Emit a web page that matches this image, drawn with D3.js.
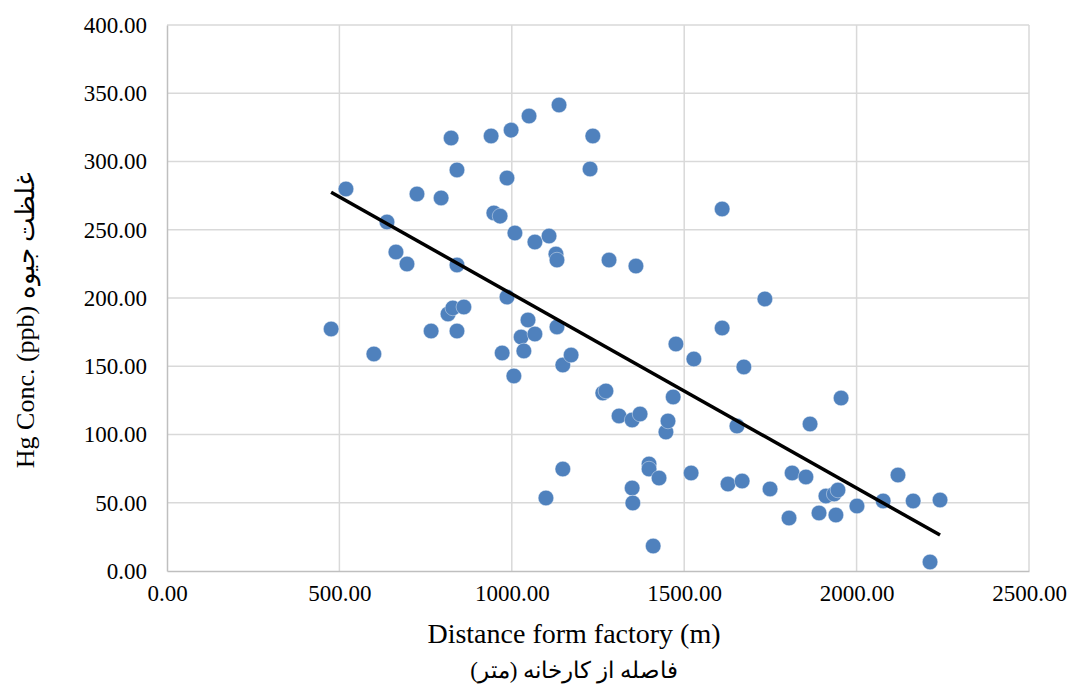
<!DOCTYPE html>
<html>
<head>
<meta charset="utf-8">
<script src="https://cdn.jsdelivr.net/npm/d3@7"></script>
<style>
  html, body { margin: 0; padding: 0; background: #fff; }
  svg { display: block; font-family: 'Liberation Serif', 'Times New Roman', serif; }
</style>
</head>
<body>
<svg width="1069" height="687"></svg>
<script>
// distance from the factory (m)
const distance = [
  476, 519, 600, 638, 664, 696, 725, 766, 795, 815,
  824, 829, 841, 841, 841, 861, 940, 948, 966, 972,
  986, 986, 998, 1009, 1006, 1027, 1035, 1047, 1050, 1067,
  1067, 1099, 1108, 1128, 1131, 1131, 1137, 1148, 1148, 1172,
  1227, 1235, 1264, 1273, 1282, 1311, 1349, 1349, 1351, 1360,
  1372, 1398, 1398, 1410, 1427, 1447, 1453, 1468, 1476, 1520,
  1528, 1610, 1610, 1627, 1653, 1668, 1673, 1734, 1749, 1804,
  1813, 1853, 1865, 1891, 1911, 1935, 1940, 1946, 1955, 2001,
  2077, 2120, 2164, 2213, 2242
];

// Hg concentration (ppb)
const hgConc = [
  177.3, 279.9, 159.0, 255.7, 233.7, 224.9, 276.2, 175.8, 273.3, 188.3,
  317.2, 192.7, 293.8, 224.2, 175.8, 193.4, 318.7, 262.3, 260.0, 159.7,
  287.9, 200.7, 323.0, 247.6, 142.9, 171.4, 161.2, 183.9, 333.3, 173.6,
  241.0, 53.5, 245.4, 232.2, 227.8, 178.8, 341.4, 150.9, 74.7, 158.2,
  294.5, 318.7, 130.4, 131.9, 227.8, 113.6, 60.8, 110.6, 49.8, 223.4,
  115.0, 78.4, 74.7, 18.3, 68.1, 101.8, 109.9, 127.5, 166.3, 71.8,
  155.3, 265.2, 178.0, 63.7, 106.2, 65.9, 149.5, 199.3, 60.1, 38.8,
  71.8, 68.9, 107.7, 42.5, 54.9, 56.4, 41.0, 59.3, 126.7, 47.6,
  51.3, 70.3, 51.3, 6.6, 52.0
];

const xTicks = [0, 500, 1000, 1500, 2000, 2500];
const yTicks = [0, 50, 100, 150, 200, 250, 300, 350, 400];

const xTitle = 'Distance form factory (m)';
const xTitleFa = 'فاصله از کارخانه (متر)';
const yTitle = 'Hg Conc. (ppb) غلظت جیوه';

const margin = { top: 25, right: 40, bottom: 116, left: 167 };
const svg = d3.select('svg');
const width = +svg.attr('width');
const height = +svg.attr('height');
const innerW = width - margin.left - margin.right;
const innerH = height - margin.top - margin.bottom;

const x = d3.scaleLinear().domain([0, 2500]).range([margin.left, margin.left + innerW]);
const y = d3.scaleLinear().domain([0, 400]).range([margin.top + innerH, margin.top]);

const points = distance.map((d, i) => ({ x: d, y: hgConc[i] }));

// gridlines
const grid = svg.append('g');
grid.selectAll('line.h')
  .data(yTicks.slice(1))
  .join('line')
  .attr('x1', x(0)).attr('x2', x(2500))
  .attr('y1', d => y(d)).attr('y2', d => y(d))
  .attr('stroke', '#d9d9d9').attr('stroke-width', 1.5);
grid.selectAll('line.v')
  .data(xTicks.slice(1))
  .join('line')
  .attr('y1', y(0)).attr('y2', y(400))
  .attr('x1', d => x(d)).attr('x2', d => x(d))
  .attr('stroke', '#d9d9d9').attr('stroke-width', 1.5);

// axes
const xAxis = svg.append('g')
  .attr('transform', `translate(0,${y(0)})`)
  .call(d3.axisBottom(x).tickValues(xTicks).tickFormat(d3.format('.2f')).tickSize(0).tickPadding(14));
const yAxis = svg.append('g')
  .attr('transform', `translate(${x(0)},0)`)
  .call(d3.axisLeft(y).tickValues(yTicks).tickFormat(d3.format('.2f')).tickSize(0).tickPadding(20));

for (const ax of [xAxis, yAxis]) {
  ax.select('.domain').attr('stroke', '#bfbfbf').attr('stroke-width', 1.5);
  ax.selectAll('text')
    .attr('font-family', "'Liberation Serif', serif")
    .attr('font-size', 23)
    .attr('fill', '#000');
}

// points
svg.append('g').selectAll('circle')
  .data(points)
  .join('circle')
  .attr('cx', d => x(d.x))
  .attr('cy', d => y(d.y))
  .attr('r', 7.8)
  .attr('fill', '#4f81bd')
  .attr('stroke', '#ffffff')
  .attr('stroke-width', 0.4);

// linear trendline (least squares over the points)
const mx = d3.mean(points, d => d.x);
const my = d3.mean(points, d => d.y);
const slope = d3.sum(points, d => (d.x - mx) * (d.y - my)) / d3.sum(points, d => (d.x - mx) ** 2);
const intercept = my - slope * mx;
const [xMin, xMax] = d3.extent(distance);
svg.append('path')
  .attr('d', d3.line()([[x(xMin), y(intercept + slope * xMin)], [x(xMax), y(intercept + slope * xMax)]]))
  .attr('stroke', '#000')
  .attr('stroke-width', 3.5)
  .attr('fill', 'none');

// titles
svg.append('text')
  .attr('x', 574).attr('y', 643)
  .attr('text-anchor', 'middle')
  .attr('font-size', 28)
  .text(xTitle);
svg.append('text')
  .attr('x', 574).attr('y', 678)
  .attr('text-anchor', 'middle')
  .attr('font-size', 23)
  .attr('direction', 'rtl')
  .text(xTitleFa);
svg.append('text')
  .attr('transform', 'translate(34,320) rotate(-90)')
  .attr('text-anchor', 'middle')
  .attr('font-size', 26)
  .text(yTitle);
</script>
</body>
</html>
